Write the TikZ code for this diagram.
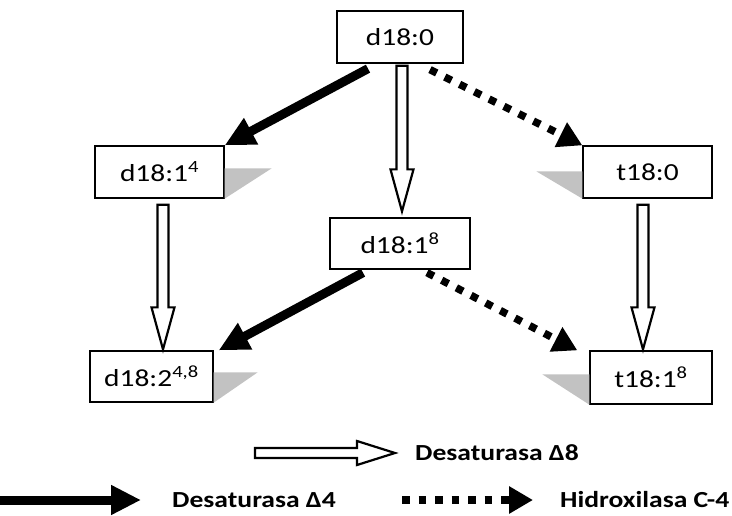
\documentclass[tikz,border=0pt]{standalone}
\usepackage{fontspec}
\setmainfont{Carlito}[FakeStretch=1.2]
\usepackage{tikz}
\usetikzlibrary{arrows.meta, calc, positioning}
\tikzset{
    box/.style={rectangle, draw=black, line width=1.3pt, fill=white, minimum height=52pt, inner sep=0pt, align=center, font=\fontsize{24.5}{28}\selectfont},
    legend/.style={inner sep=0pt, font=\fontsize{23}{26}\selectfont\bfseries},
    shadow/.style={fill=black!24, draw=none},
    desat4/.style={line width=9pt, -{Triangle[length=30pt, width=28pt]}},
    hydrox/.style={line width=7.5pt, dash pattern=on 7.5pt off 9pt, -{Triangle[length=24pt, width=26pt]}},
    headlen/.store in=\headlen, headlen=42pt,
    headwd/.store in=\headwd, headwd=11.5pt,
    shaftwd/.store in=\shaftwd, shaftwd=5.5pt,
    desat8/.style={draw=black, line width=2.2pt, fill=white, line join=miter, to path={
        let \p1=(\tikztostart), \p2=(\tikztotarget),
            \n1={atan2(\y2-\y1,\x2-\x1)}, \n2={veclen(\x2-\x1,\y2-\y1)} in
        [shift={(\p1)}, rotate=\n1]
        (0pt,\shaftwd) -- ({\n2-\headlen},\shaftwd) -- ({\n2-\headlen},\headwd)
        -- (\n2,0pt) -- ({\n2-\headlen},-\headwd) -- ({\n2-\headlen},-\shaftwd)
        -- (0pt,-\shaftwd) -- cycle}}
}
\begin{document}
\begin{tikzpicture}[x=1pt, y=-1pt, node distance=60pt]
    \useasboundingbox (0,0) rectangle (732,515);
    % sphingoid bases
    \node (d180) [box, minimum width=126pt] at (400,37) {d18:0};
    \node (d181a) [box, minimum width=129pt] at (159.5,172) {d18:1\textsuperscript{4}};
    \node (t180) [box, minimum width=129pt] at (647.5,172) {t18:0};
    \node (d181b) [box, minimum width=140pt, minimum height=51pt] at (400,243.5) {d18:1\textsuperscript{8}};
    \node (d182) [box, minimum width=123pt, minimum height=51pt] at (151.5,376.5) {d18:2\textsuperscript{4,8}};
    \node (t181) [box, minimum width=122pt, minimum height=53pt] at (651,377.5) {t18:1\textsuperscript{8}};

    % shadows
    \fill[shadow] ([yshift=-23pt]d181a.north east) -- ++(47pt,0pt) -- (d181a.south east) -- cycle;
    \fill[shadow] ([yshift=-22pt]d182.north east) -- ++(44pt,0pt) -- (d182.south east) -- cycle;
    \fill[shadow] ([yshift=-26pt]t180.north west) -- ++(-46pt,0pt) -- (t180.south west) -- cycle;
    \fill[shadow] ([yshift=-24pt]t181.north west) -- ++(-47pt,0pt) -- (t181.south west) -- cycle;

    % reactions
    \draw [desat4] ([xshift=-32pt,yshift=-5pt]d180.south) -- (d181a.north east);
    \draw [desat8] ([xshift=2pt,yshift=-2pt]d180.south) to ([xshift=2pt,yshift=6pt]d181b.north);
    \draw [hydrox] ([xshift=30pt,yshift=-6pt]d180.south) -- (t180.north west);
    \draw [desat8] ([xshift=3.5pt,yshift=-6pt]d181a.south) to ([xshift=11.5pt,yshift=1pt]d182.north);
    \draw [desat8] ([xshift=-4.5pt,yshift=-6pt]t180.south) to ([xshift=-8pt,yshift=1pt]t181.north);
    \draw [desat4] ([xshift=-37pt,yshift=-3pt]d181b.south) -- ([xshift=5pt]d182.north east);
    \draw [hydrox] ([xshift=27pt,yshift=-3pt]d181b.south) -- ([xshift=-12pt]t181.north west);

    % legend
    \coordinate (k8a) at (255,453);
    \coordinate (k8b) at (395,453);
    \coordinate (k4a) at (0,500);
    \coordinate (k4b) at (141,500);
    \coordinate (kha) at (402,500);
    \coordinate (khb) at (533,500);
    \draw [desat8, headlen=38pt, headwd=12pt, shaftwd=5pt] (k8a) to (k8b);
    \draw [desat4] (k4a) -- (k4b);
    \draw [hydrox] (kha) -- (khb);
    \node (l8) [legend, right=20pt of k8b] {Desaturasa Δ8};
    \node (l4) [legend, right=31pt of k4b] {Desaturasa Δ4};
    \node (lh) [legend, right=27pt of khb] {Hidroxilasa C-4};
\end{tikzpicture}
\end{document}
